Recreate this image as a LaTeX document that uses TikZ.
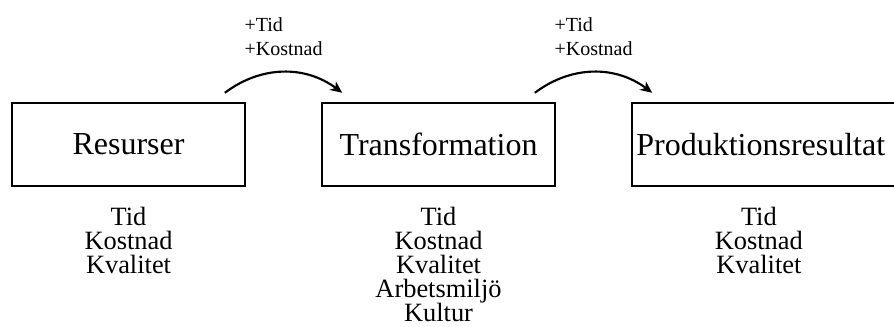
\documentclass[tikz,border=0pt]{standalone}
\usepackage{fontspec}
\setmainfont{Liberation Serif}
\usetikzlibrary{positioning, arrows, arrows.meta}

\begin{document}
\begin{tikzpicture}[node distance=56pt,
    box/.style={draw, line width=1.5pt, minimum width=175pt, minimum height=62pt,
      font=\fontsize{24pt}{28pt}\selectfont},
    facts/.style={align=center, font=\fontsize{19.8pt}{18pt}\selectfont},
    cost/.style={align=left, font=\fontsize{15pt}{18pt}\selectfont}]
    \useasboundingbox (0,0) rectangle (670.5pt,245.25pt);

        \node[box] (res) at (96.4pt,136.9pt) {Resurser};
        \node[box] (trans) [right =of res] {Transformation};
        \node[box, text width=196pt, align=left] (prod) [right =of trans] {Produktionsresultat};

        \node[facts] (res_v)   [below =12pt of res]   {Tid\\Kostnad\\Kvalitet};
        \node[facts] (trans_v) [below =12pt of trans] {Tid\\Kostnad\\Kvalitet\\Arbetsmiljö\\Kultur};
        \node[facts] (prod_v)  [below =12pt of prod.south west, xshift=96pt] {Tid\\Kostnad\\Kvalitet};

        \path[-{Stealth[length=9pt, width=8pt]}, line width=1.6pt]
        ([shift={(-16pt,7pt)}]res.north east) edge [bend left=37]
            node[cost, above=8pt] {+Tid\\+Kostnad} ([shift={(16pt,7pt)}]trans.north west)
        ([shift={(-16pt,7pt)}]trans.north east) edge [bend left=37]
            node[cost, above=8pt] {+Tid\\+Kostnad} ([shift={(16pt,7pt)}]prod.north west)
        ;

\end{tikzpicture}
\end{document}
